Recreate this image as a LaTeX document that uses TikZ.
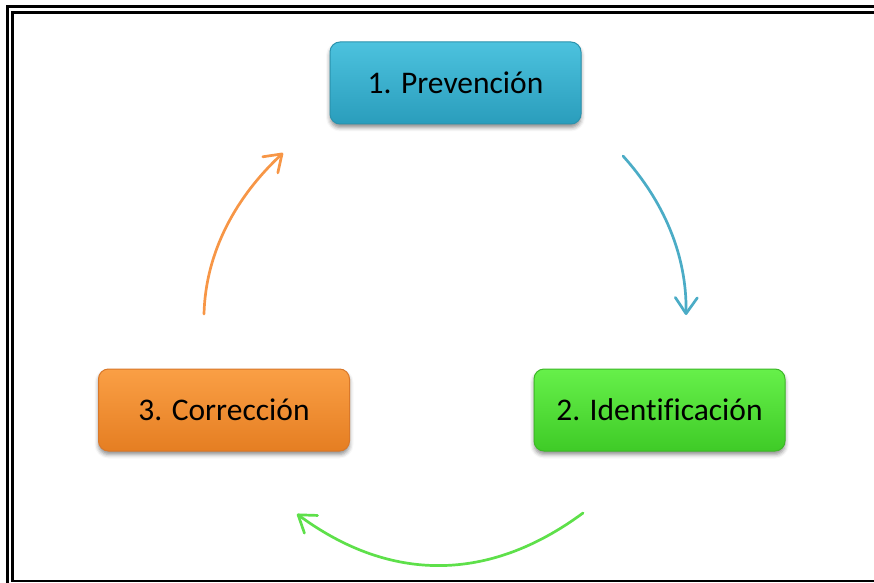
\documentclass[tikz,border=0pt]{standalone}
\usepackage{fontspec}
\setmainfont[Ligatures=NoCommon]{Carlito}
\usetikzlibrary{arrows.meta,shadows.blur}

\definecolor{prevTop}{HTML}{4CC2DE}
\definecolor{prevBot}{HTML}{2A9DBC}
\definecolor{prevLine}{HTML}{2B93AE}
\definecolor{idenTop}{HTML}{66F04A}
\definecolor{idenBot}{HTML}{3FCB27}
\definecolor{idenLine}{HTML}{3DB827}
\definecolor{corrTop}{HTML}{FA9F45}
\definecolor{corrBot}{HTML}{E57E22}
\definecolor{corrLine}{HTML}{D9782A}
\definecolor{arrBlue}{HTML}{4BACC6}
\definecolor{arrGreen}{HTML}{5EE04A}
\definecolor{arrOrange}{HTML}{F79646}

\tikzset{
  stagebox/.style={rounded corners=10pt, minimum width=251pt, minimum height=82pt,
    line width=1pt, inner sep=0pt,
    font=\fontsize{31.5}{38}\selectfont,
    blur shadow={shadow xshift=0pt, shadow yshift=-3.5pt, shadow blur radius=4pt, shadow opacity=45}},
  cyclearrow/.style={line width=2.7pt, line cap=round,
    -{Straight Barb[length=16pt,width=22pt,line cap=round,line join=round]},
    looseness=0.9},
  frameline/.style={draw=black}
}

\begin{document}
\begin{tikzpicture}[x=1pt,y=1pt]
  \useasboundingbox (0,0) rectangle (874,582);
  \clip (0,0) rectangle (874,582);

  % double page frame
  \draw[frameline, line width=3pt] (7,-20) -- (7,575.5) -- (900,575.5);
  \draw[frameline, line width=2.5pt] (900,1) -- (12.5,1) -- (12.5,569.5) -- (900,569.5);

  % stages of the cycle
  \node[stagebox, draw=prevLine, top color=prevTop, bottom color=prevBot] (prev) at (455.5,499) {1. Prevención};
  \node[stagebox, draw=idenLine, top color=idenTop, bottom color=idenBot] (iden) at (659.5,172) {2. Identificación};
  \node[stagebox, draw=corrLine, top color=corrTop, bottom color=corrBot] (corr) at (224,172) {3. Corrección};

  % arc ends of the connectors
  \coordinate (b1) at (623,426);
  \coordinate (b2) at (686,267);
  \coordinate (g1) at (583,69);
  \coordinate (g2) at (297,68);
  \coordinate (o1) at (204,268);
  \coordinate (o2) at (283,429);

  \draw[cyclearrow, arrBlue] (b1) to[out=-48, in=89] (b2);
  \draw[cyclearrow, arrGreen] (g1) to[out=-143.5, in=-36.4, looseness=1.04] (g2);
  \draw[cyclearrow, arrOrange] (o1) to[out=88.5, in=-137] (o2);
\end{tikzpicture}
\end{document}
